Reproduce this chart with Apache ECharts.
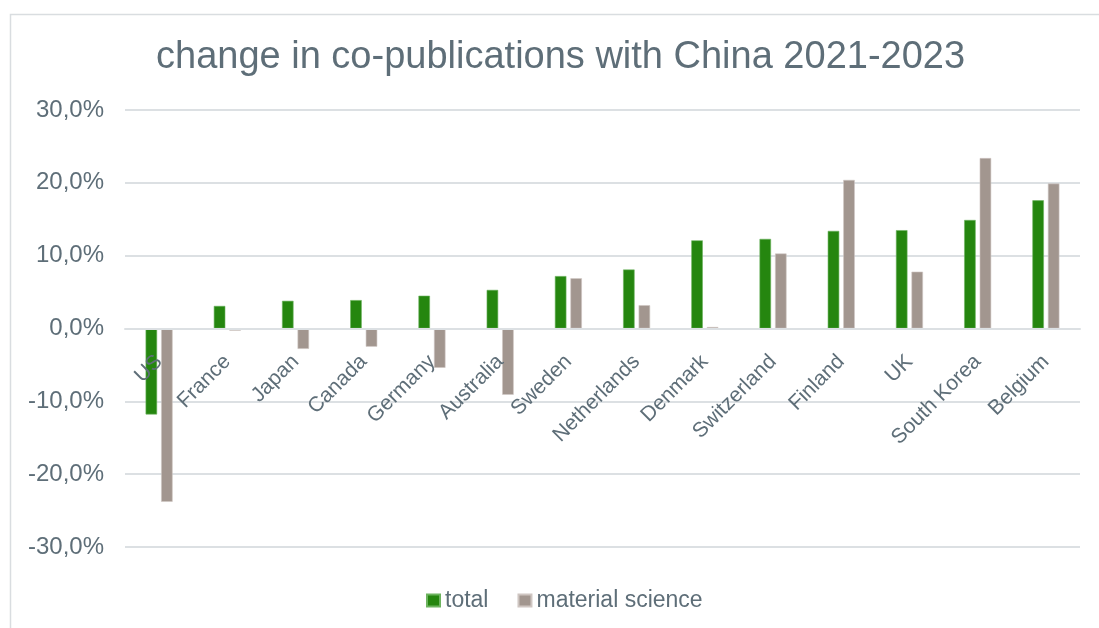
<!DOCTYPE html>
<html>
<head>
<meta charset="utf-8">
<title>change in co-publications with China 2021-2023</title>
<script src="https://cdn.jsdelivr.net/npm/echarts@6/dist/echarts.min.js"></script>
<style>
  html, body { margin: 0; padding: 0; background: #ffffff; }
  #chart { width: 1099px; height: 628px; }
</style>
</head>
<body>
<div id="chart"></div>
<script>
// Countries, ordered by change in total co-publications
const countries = ['US', 'France', 'Japan', 'Canada', 'Germany', 'Australia', 'Sweden',
  'Netherlands', 'Denmark', 'Switzerland', 'Finland', 'UK', 'South Korea', 'Belgium'];

// Change 2021-2023 in percent
const totalChange = [-11.8, 3.1, 3.8, 3.9, 4.5, 5.3, 7.2, 8.1, 12.1, 12.3, 13.4, 13.5, 14.9, 17.6];
const materialScienceChange = [-23.8, -0.3, -2.8, -2.5, -5.4, -9.1, 6.9, 3.2, 0.2, 10.3, 20.4, 7.8, 23.4, 19.9];

const seriesNames = ['total', 'material science'];
const yTicks = { min: -30, max: 30, step: 10 };

const textColor = '#5E6E78';
const gridColor = '#DCE0E3';
const fontFamily = '"Liberation Sans", Arial, sans-serif';

const gridTop = 110;
const gridBottom = 81;
const chartHeight = 628;

// the category axis sits on the zero line of the value axis
const plotHeight = chartHeight - gridTop - gridBottom;
const zeroShift = plotHeight * (0 - yTicks.min) / (yTicks.max - yTicks.min);

const chart = echarts.init(document.getElementById('chart'), null, { renderer: 'canvas' });

chart.setOption({
  backgroundColor: '#ffffff',
  animation: false,
  textStyle: { fontFamily: fontFamily, color: textColor },
  graphic: [{
    type: 'rect',
    left: 8, top: 12,
    shape: { width: 1120, height: 700 },
    style: { fill: 'none', stroke: '#D9DDE0', lineWidth: 1.5 },
    silent: true
  }],
  title: {
    text: 'change in co-publications with China 2021-2023',
    left: 151,
    top: 34,
    textStyle: { fontFamily: fontFamily, fontSize: 38, fontWeight: 'normal', color: textColor }
  },
  legend: {
    left: 421,
    top: 584,
    itemWidth: 13,
    itemHeight: 12,
    itemGap: 29,
    icon: 'rect',
    textStyle: { fontFamily: fontFamily, fontSize: 23, color: textColor },
    data: seriesNames
  },
  grid: { left: 125, right: 19, top: gridTop, bottom: gridBottom, containLabel: false },
  xAxis: {
    type: 'category',
    data: countries,
    z: 5,
    offset: -zeroShift,
    axisLine: { onZero: false, lineStyle: { color: gridColor, width: 2 } },
    axisTick: { show: false },
    axisLabel: {
      rotate: 45,
      margin: 30,
      interval: 0,
      fontFamily: fontFamily,
      fontSize: 21,
      color: textColor
    }
  },
  yAxis: {
    type: 'value',
    min: yTicks.min,
    max: yTicks.max,
    interval: yTicks.step,
    axisLine: { show: false },
    axisTick: { show: false },
    splitLine: { lineStyle: { color: gridColor, width: 2 } },
    axisLabel: {
      margin: 21,
      fontFamily: fontFamily,
      fontSize: 24,
      color: textColor,
      formatter: v => v.toFixed(1).replace('.', ',') + '%'
    }
  },
  series: [
    {
      name: seriesNames[0],
      type: 'bar',
      data: totalChange,
      barWidth: 11.5,
      barGap: '35%',
      itemStyle: { color: '#25860F', borderColor: '#6DB35F', borderWidth: 0.6 }
    },
    {
      name: seriesNames[1],
      type: 'bar',
      data: materialScienceChange,
      barWidth: 11.5,
      itemStyle: { color: '#A2968F', borderColor: '#CFC6C2', borderWidth: 0.6 }
    }
  ]
});
</script>
</body>
</html>
